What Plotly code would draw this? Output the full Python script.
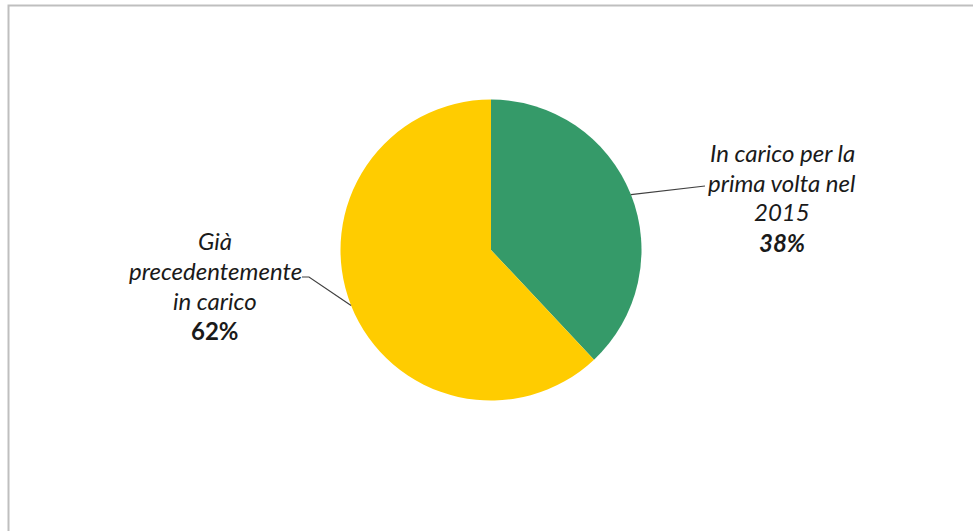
import math
import plotly.graph_objects as go

labels = ["In carico per la prima volta nel 2015", "Già precedentemente in carico"]
values = [38, 62]
colors = ["#359A69", "#FFCC00"]
label_lines = [["In carico per la", "prima volta nel", "2015"], ["Già", "precedentemente", "in carico"]]
pct_text = ["<b><i>38%</i></b>", "<span style='font-style:normal'><b>62%</b></span>"]

W, H = 973, 531
cx, cy, r = 491, 250, 150.5

def px(x):
    return x / W

def py(y):
    return 1 - y / H

fig = go.Figure(go.Pie(
    labels=labels, values=values, sort=False, direction="clockwise", rotation=0,
    marker=dict(colors=colors, line=dict(width=0)),
    textinfo="none", hoverinfo="label+percent", showlegend=False,
    domain=dict(x=[px(cx - r), px(cx + r)], y=[py(cy + r), py(cy - r)]),
))

total = sum(values)
start = 0.0
ann = []
shapes = []
blocks = [dict(x=782, y0=152, end=(705, 186), side="right"),
          dict(x=215, y0=240, end=(302, 277), side="left")]
for i, v in enumerate(values):
    mid = (start + v / 2) / total * 2 * math.pi
    start += v
    ex = cx + r * math.sin(mid)
    ey = cy - r * math.cos(mid)
    b = blocks[i]
    lines = label_lines[i] + [pct_text[i]]
    for j, t in enumerate(lines):
        txt = t if j == len(lines) - 1 else "<i>" + t + "</i>"
        ann.append(dict(x=px(b["x"]), y=py(b["y0"] + 30 * j), xref="paper", yref="paper",
                        text=txt, showarrow=False, xanchor="center", yanchor="middle",
                        font=dict(family="Lato", size=24, color="#1a1a1a")))
    if b["side"] == "right":
        path = f"M {px(ex)} {py(ey)} L {px(b['end'][0])} {py(b['end'][1])}"
    else:
        path = (f"M {px(ex)} {py(ey)} L {px(b['end'][0] + 7)} {py(b['end'][1])} "
                f"L {px(b['end'][0])} {py(b['end'][1])}")
    shapes.append(dict(type="path", path=path, xref="paper", yref="paper",
                       line=dict(color="#404040", width=1.2)))

shapes.append(dict(type="rect", xref="paper", yref="paper",
                   x0=px(8.5), x1=1.05, y0=-0.05, y1=py(5.5),
                   line=dict(color="#BFBFBF", width=2), layer="below"))

fig.update_layout(width=W, height=H, margin=dict(l=0, r=0, t=0, b=0),
                  paper_bgcolor="white", plot_bgcolor="white",
                  annotations=ann, shapes=shapes)
fig.write_html("out.html", config={"displayModeBar": False},
               post_script="document.body.style.margin='0';document.body.style.overflow='hidden';")
